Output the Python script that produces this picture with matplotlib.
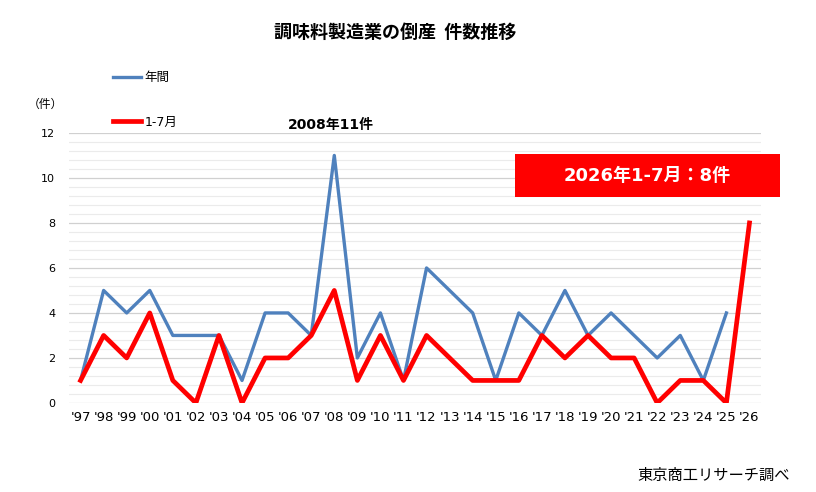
import matplotlib
matplotlib.use("Agg")
import matplotlib.pyplot as plt
from matplotlib.ticker import MultipleLocator
from matplotlib.patches import Rectangle
import numpy as np

plt.rcParams['font.family'] = ['Noto Sans CJK JP', 'DejaVu Sans']
MIX = ['DejaVu Sans', 'Noto Sans CJK JP']

years = ["'97", "'98", "'99", "'00", "'01", "'02", "'03", "'04", "'05", "'06",
         "'07", "'08", "'09", "'10", "'11", "'12", "'13", "'14", "'15", "'16",
         "'17", "'18", "'19", "'20", "'21", "'22", "'23", "'24", "'25", "'26"]
annual = [1, 5, 4, 5, 3, 3, 3, 1, 4, 4, 3, 11, 2, 4, 1, 6, 5, 4, 1, 4,
          3, 5, 3, 4, 3, 2, 3, 1, 4]
jan_jul = [1, 3, 2, 4, 1, 0, 3, 0, 2, 2, 3, 5, 1, 3, 1, 3, 2, 1, 1, 1,
           3, 2, 3, 2, 2, 0, 1, 1, 0, 8]

blue = '#4F81BD'
red = '#FF0000'

fig = plt.figure(figsize=(8.16, 4.92), dpi=100)
ax = fig.add_axes([0.0846, 0.181, 0.848, 0.5488])

x_all = np.arange(len(years))
l1, = ax.plot(x_all[:len(annual)], annual, color=blue, lw=2.4, label='年間', zorder=3)
l2, = ax.plot(x_all, jan_jul, color=red, lw=3.4, label='1-7月', zorder=4)

ax.set_xlim(-0.5, len(years) - 0.5)
ax.set_ylim(0, 12)
ax.yaxis.set_major_locator(MultipleLocator(2))
ax.yaxis.set_minor_locator(MultipleLocator(0.4))
ax.grid(which='major', axis='y', color='#d0d0d0', lw=0.9)
ax.grid(which='minor', axis='y', color='#ebebeb', lw=0.8)
ax.set_axisbelow(True)
for s in ax.spines.values():
    s.set_visible(False)
ax.set_xticks(x_all)
ax.set_xticklabels(years, fontsize=9.5, family=['DejaVu Sans'])
for t in ax.get_yticklabels():
    t.set_family(['DejaVu Sans'])
ax.tick_params(axis='both', which='both', length=0)
ax.tick_params(axis='y', labelsize=8, pad=10)
ax.tick_params(axis='x', pad=6)

fig.text(0.484, 0.935, '調味料製造業の倒産  件数推移', fontsize=13, fontweight='bold',
         ha='center', va='center')
fig.text(0.055, 0.787, '（件）', fontsize=8.5, ha='center', va='center')
fig.text(0.405, 0.745, '2008年11件', fontsize=10, fontweight='bold', ha='center', va='center',
         family=MIX)
fig.text(0.968, 0.033, '東京商工リサーチ調べ', fontsize=11, ha='right', va='center')

fig.add_artist(Rectangle((0.631, 0.5996), 0.325, 0.0874, transform=fig.transFigure,
                         facecolor=red, edgecolor='none', zorder=5))
fig.text(0.793, 0.642, '2026年1-7月：8件', fontsize=13, fontweight='bold', color='white',
         ha='center', va='center', family=MIX, zorder=6)

fig.legend(handles=[l1, l2], loc='upper left', bbox_to_anchor=(0.125, 0.878),
           frameon=False, fontsize=9, labelspacing=2.5, handlelength=2.2,
           handletextpad=0.3, prop={'family': MIX, 'size': 9})

fig.savefig('out.png', dpi=100, facecolor='white')
